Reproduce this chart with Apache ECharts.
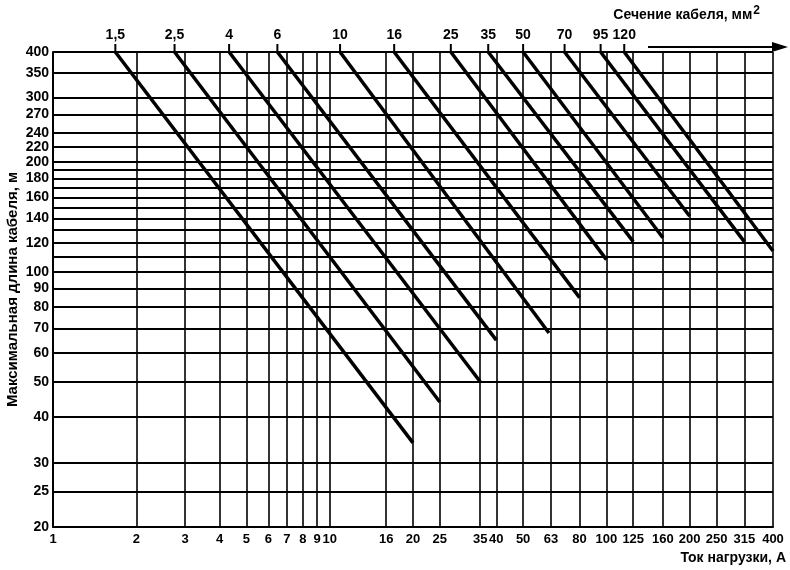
<!DOCTYPE html>
<html>
<head>
<meta charset="utf-8">
<script src="https://cdn.jsdelivr.net/npm/echarts@6.0.0/dist/echarts.min.js"></script>
<style>
	html, body { margin: 0; padding: 0; background: #fff; }
	#chart { width: 790px; height: 570px; }
</style>
</head>
<body>
<div id="chart"></div>
<script>
// сечение кабеля, мм2 (подписи над графиком)
var sections = ['1,5', '2,5', '4', '6', '10', '16', '25', '35', '50', '70', '95', '120'];
// начало каждой линии: ток, А и длина, м
var startCurrent = [1.68, 2.75, 4.33, 6.47, 10.9, 17.1, 27.4, 37.4, 50, 70.6, 95.3, 116];
var startLength = [400, 400, 400, 400, 400, 400, 400, 400, 400, 400, 400, 400];
// конец каждой линии
var endCurrent = [20, 25, 35, 40, 62, 80, 100, 125, 160, 200, 315, 400];
var endLength = [34, 44, 50, 65, 68, 85, 108, 121, 124, 142, 121, 114];

// подписи и сетка
var currentTicks = [1, 2, 3, 4, 5, 6, 7, 8, 9, 10, 16, 20, 25, 35, 40, 50, 63, 80, 100, 125, 160, 200, 250, 315, 400];
var lengthTicks = [20, 25, 30, 40, 50, 60, 70, 80, 90, 100, 120, 140, 160, 180, 200, 220, 240, 270, 300, 350, 400];
var lengthGrid = [20, 25, 30, 40, 50, 60, 70, 80, 90, 100, 110, 120, 130, 140, 150, 160, 170, 180, 190, 200, 220, 240, 270, 300, 350, 400];

var font = '"Liberation Sans", Arial, sans-serif';

var chart = echarts.init(document.getElementById('chart'));

var series = [];
for (var i = 0; i < sections.length; i++) {
	series.push({
		type: 'line',
		clip: false,
		silent: true,
		animation: false,
		symbol: 'none',
		lineStyle: { color: '#000', width: 3.5 },
		data: [
			{
				value: [startCurrent[i], startLength[i]],
				symbol: 'rect',
				symbolSize: [2, 8],
				symbolOffset: [0, -4],
				itemStyle: { color: '#000' },
				label: {
					show: true,
					position: 'top',
					distance: 2,
					formatter: sections[i],
					color: '#000',
					fontFamily: font,
					fontWeight: 'bold',
					fontSize: 14
				}
			},
			[endCurrent[i], endLength[i]]
		]
	});
}

var option = {
	backgroundColor: '#fff',
	animation: false,
	grid: { left: 53, top: 52, right: 17, bottom: 43, containLabel: false, outerBoundsMode: 'none' },
	xAxis: {
		type: 'log',
		min: 1,
		max: 400,
		axisLine: { show: true, lineStyle: { color: '#000', width: 2 } },
		axisTick: { show: false, customValues: currentTicks },
		axisLabel: {
			customValues: currentTicks,
			margin: 6,
			color: '#000',
			fontFamily: font,
			fontWeight: 'bold',
			fontSize: 13
		},
		splitLine: { show: true, lineStyle: { color: '#000', width: 1.6 } }
	},
	yAxis: {
		type: 'log',
		min: 20,
		max: 400,
		name: 'Максимальная длина кабеля, м',
		nameLocation: 'middle',
		nameGap: 33,
		nameMoveOverlap: false,
		nameTextStyle: { color: '#000', fontFamily: font, fontWeight: 'bold', fontSize: 15 },
		axisLine: { show: true, lineStyle: { color: '#000', width: 2 } },
		axisTick: { show: false, customValues: lengthGrid },
		axisLabel: {
			customValues: lengthTicks,
			margin: 4,
			color: '#000',
			fontFamily: font,
			fontWeight: 'bold',
			fontSize: 14
		},
		splitLine: { show: true, lineStyle: { color: '#000', width: 2 } }
	},
	graphic: [
		{
			type: 'text',
			style: {
				text: '{a|Сечение кабеля, мм}{s|2}',
				x: 760, y: 15,
				align: 'right', verticalAlign: 'middle',
				textAlign: 'right', textVerticalAlign: 'middle',
				font: 'bold 14px ' + font,
				fill: '#000',
				rich: {
					a: { fontFamily: font, fontWeight: 'bold', fontSize: 14, fill: '#000' },
					s: { fontFamily: font, fontWeight: 'bold', fontSize: 12, fill: '#000', verticalAlign: 'top', padding: [0, 0, 8, 1] }
				}
			}
		},
		{
			type: 'line',
			shape: { x1: 648, y1: 47, x2: 776, y2: 47 },
			style: { stroke: '#000', lineWidth: 2 }
		},
		{
			type: 'polygon',
			shape: { points: [[772, 42], [788, 47], [772, 52]] },
			style: { fill: '#000' }
		},
		{
			type: 'text',
			style: {
				text: 'Ток нагрузки, А',
				x: 786, y: 558,
				align: 'right', verticalAlign: 'middle',
				textAlign: 'right', textVerticalAlign: 'middle',
				font: 'bold 14px ' + font,
				fill: '#000'
			}
		}
	],
	series: series
};

chart.setOption(option);
</script>
</body>
</html>
